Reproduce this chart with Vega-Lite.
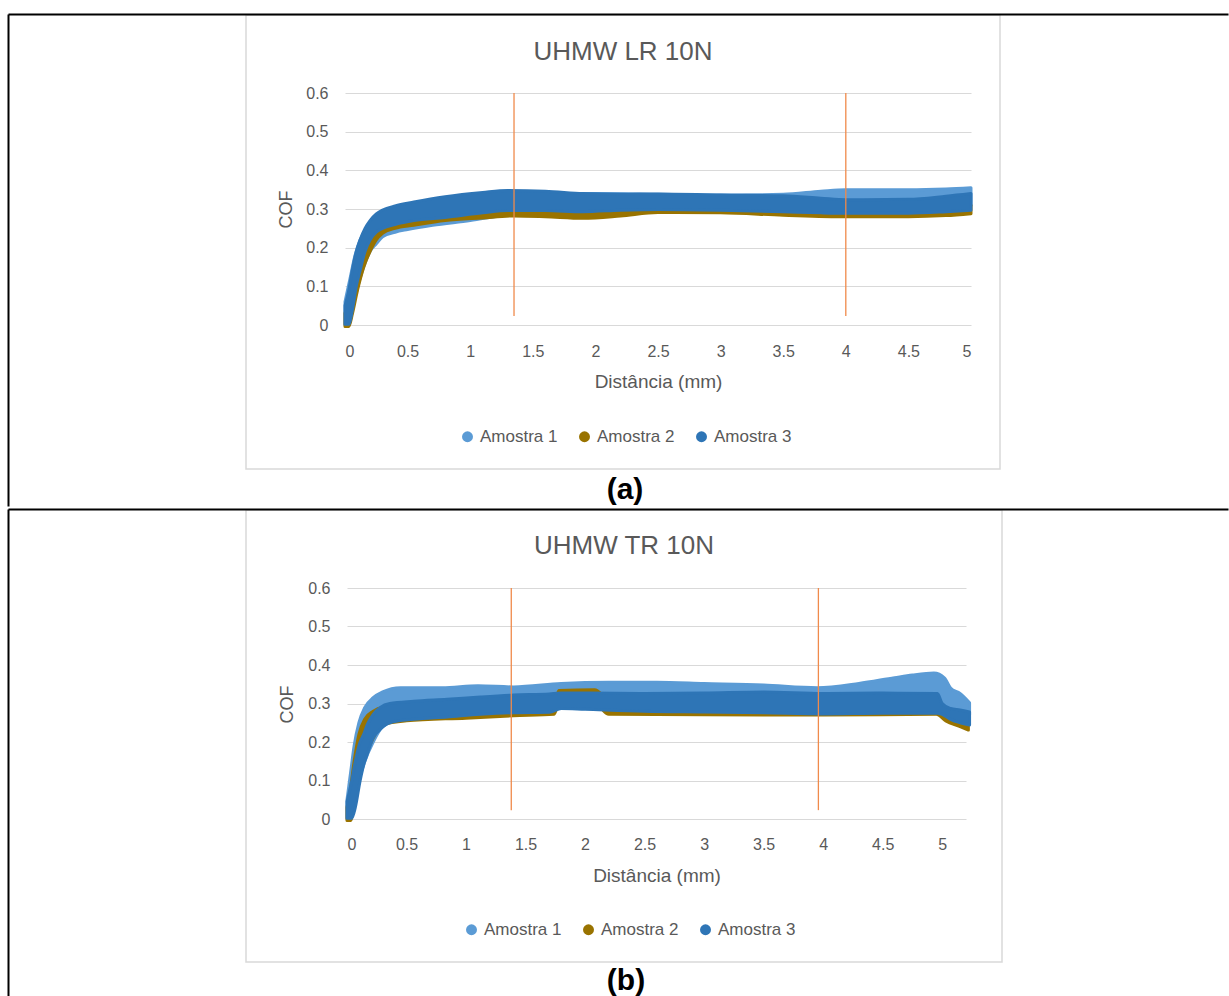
{
  "$schema": "https://vega.github.io/schema/vega-lite/v6.json",
  "padding": {"left": 7, "top": 13, "right": 0, "bottom": 0},
  "background": "white",
  "spacing": 0,
  "datasets": {
    "bandsA": [
      {"s": "Amostra 1", "x": 0, "lo": 0, "hi": 0.06},
      {"s": "Amostra 1", "x": 0.04, "lo": 0.02, "hi": 0.12},
      {"s": "Amostra 1", "x": 0.08, "lo": 0.07, "hi": 0.18},
      {"s": "Amostra 1", "x": 0.12, "lo": 0.12, "hi": 0.22},
      {"s": "Amostra 1", "x": 0.16, "lo": 0.16, "hi": 0.245},
      {"s": "Amostra 1", "x": 0.2, "lo": 0.19, "hi": 0.26},
      {"s": "Amostra 1", "x": 0.25, "lo": 0.21, "hi": 0.275},
      {"s": "Amostra 1", "x": 0.3, "lo": 0.228, "hi": 0.285},
      {"s": "Amostra 1", "x": 0.4, "lo": 0.24, "hi": 0.295},
      {"s": "Amostra 1", "x": 0.5, "lo": 0.247, "hi": 0.3},
      {"s": "Amostra 1", "x": 0.7, "lo": 0.258, "hi": 0.31},
      {"s": "Amostra 1", "x": 1.0, "lo": 0.27, "hi": 0.325},
      {"s": "Amostra 1", "x": 1.3, "lo": 0.285, "hi": 0.335},
      {"s": "Amostra 1", "x": 1.6, "lo": 0.29, "hi": 0.338},
      {"s": "Amostra 1", "x": 2.0, "lo": 0.3, "hi": 0.34},
      {"s": "Amostra 1", "x": 2.5, "lo": 0.3, "hi": 0.338},
      {"s": "Amostra 1", "x": 3.0, "lo": 0.3, "hi": 0.336},
      {"s": "Amostra 1", "x": 3.5, "lo": 0.3, "hi": 0.338},
      {"s": "Amostra 1", "x": 3.8, "lo": 0.305, "hi": 0.346},
      {"s": "Amostra 1", "x": 4.0, "lo": 0.31, "hi": 0.35},
      {"s": "Amostra 1", "x": 4.5, "lo": 0.31, "hi": 0.35},
      {"s": "Amostra 1", "x": 4.8, "lo": 0.31, "hi": 0.352},
      {"s": "Amostra 1", "x": 5.0, "lo": 0.31, "hi": 0.355},
      {"s": "Amostra 2", "x": 0, "lo": -0.004, "hi": 0.03},
      {"s": "Amostra 2", "x": 0.03, "lo": -0.004, "hi": 0.07},
      {"s": "Amostra 2", "x": 0.06, "lo": 0.03, "hi": 0.13},
      {"s": "Amostra 2", "x": 0.1, "lo": 0.09, "hi": 0.19},
      {"s": "Amostra 2", "x": 0.15, "lo": 0.15, "hi": 0.235},
      {"s": "Amostra 2", "x": 0.2, "lo": 0.19, "hi": 0.255},
      {"s": "Amostra 2", "x": 0.25, "lo": 0.22, "hi": 0.272},
      {"s": "Amostra 2", "x": 0.3, "lo": 0.237, "hi": 0.282},
      {"s": "Amostra 2", "x": 0.4, "lo": 0.25, "hi": 0.29},
      {"s": "Amostra 2", "x": 0.55, "lo": 0.258, "hi": 0.295},
      {"s": "Amostra 2", "x": 0.8, "lo": 0.27, "hi": 0.3},
      {"s": "Amostra 2", "x": 1.1, "lo": 0.277, "hi": 0.305},
      {"s": "Amostra 2", "x": 1.35, "lo": 0.282, "hi": 0.31},
      {"s": "Amostra 2", "x": 1.6, "lo": 0.28, "hi": 0.305},
      {"s": "Amostra 2", "x": 1.9, "lo": 0.276, "hi": 0.3},
      {"s": "Amostra 2", "x": 2.2, "lo": 0.282, "hi": 0.305},
      {"s": "Amostra 2", "x": 2.5, "lo": 0.291, "hi": 0.31},
      {"s": "Amostra 2", "x": 3.0, "lo": 0.29, "hi": 0.31},
      {"s": "Amostra 2", "x": 3.5, "lo": 0.284, "hi": 0.305},
      {"s": "Amostra 2", "x": 4.0, "lo": 0.28, "hi": 0.3},
      {"s": "Amostra 2", "x": 4.5, "lo": 0.28, "hi": 0.3},
      {"s": "Amostra 2", "x": 4.8, "lo": 0.283, "hi": 0.303},
      {"s": "Amostra 2", "x": 5.0, "lo": 0.288, "hi": 0.31},
      {"s": "Amostra 3", "x": 0, "lo": 0.002, "hi": 0.05},
      {"s": "Amostra 3", "x": 0.03, "lo": 0.002, "hi": 0.09},
      {"s": "Amostra 3", "x": 0.06, "lo": 0.04, "hi": 0.145},
      {"s": "Amostra 3", "x": 0.09, "lo": 0.1, "hi": 0.19},
      {"s": "Amostra 3", "x": 0.12, "lo": 0.14, "hi": 0.22},
      {"s": "Amostra 3", "x": 0.16, "lo": 0.19, "hi": 0.25},
      {"s": "Amostra 3", "x": 0.2, "lo": 0.22, "hi": 0.27},
      {"s": "Amostra 3", "x": 0.25, "lo": 0.24, "hi": 0.287},
      {"s": "Amostra 3", "x": 0.3, "lo": 0.25, "hi": 0.297},
      {"s": "Amostra 3", "x": 0.4, "lo": 0.26, "hi": 0.308},
      {"s": "Amostra 3", "x": 0.55, "lo": 0.27, "hi": 0.318},
      {"s": "Amostra 3", "x": 0.8, "lo": 0.278, "hi": 0.332},
      {"s": "Amostra 3", "x": 1.1, "lo": 0.29, "hi": 0.343},
      {"s": "Amostra 3", "x": 1.3, "lo": 0.296, "hi": 0.348},
      {"s": "Amostra 3", "x": 1.6, "lo": 0.296, "hi": 0.346},
      {"s": "Amostra 3", "x": 1.9, "lo": 0.293, "hi": 0.34},
      {"s": "Amostra 3", "x": 2.2, "lo": 0.297, "hi": 0.338},
      {"s": "Amostra 3", "x": 2.5, "lo": 0.299, "hi": 0.339},
      {"s": "Amostra 3", "x": 3.0, "lo": 0.297, "hi": 0.336},
      {"s": "Amostra 3", "x": 3.5, "lo": 0.293, "hi": 0.334},
      {"s": "Amostra 3", "x": 3.8, "lo": 0.29, "hi": 0.328},
      {"s": "Amostra 3", "x": 4.0, "lo": 0.289, "hi": 0.324},
      {"s": "Amostra 3", "x": 4.5, "lo": 0.289, "hi": 0.325},
      {"s": "Amostra 3", "x": 4.8, "lo": 0.293, "hi": 0.333},
      {"s": "Amostra 3", "x": 5.0, "lo": 0.297, "hi": 0.34}
    ],
    "bandsB": [
      {"s": "Amostra 1", "x": 0, "lo": 0, "hi": 0.05},
      {"s": "Amostra 1", "x": 0.03, "lo": 0.01, "hi": 0.12},
      {"s": "Amostra 1", "x": 0.06, "lo": 0.05, "hi": 0.19},
      {"s": "Amostra 1", "x": 0.1, "lo": 0.1, "hi": 0.25},
      {"s": "Amostra 1", "x": 0.15, "lo": 0.15, "hi": 0.29},
      {"s": "Amostra 1", "x": 0.22, "lo": 0.2, "hi": 0.315},
      {"s": "Amostra 1", "x": 0.3, "lo": 0.24, "hi": 0.33},
      {"s": "Amostra 1", "x": 0.45, "lo": 0.26, "hi": 0.341},
      {"s": "Amostra 1", "x": 0.8, "lo": 0.27, "hi": 0.341},
      {"s": "Amostra 1", "x": 1.1, "lo": 0.28, "hi": 0.346},
      {"s": "Amostra 1", "x": 1.4, "lo": 0.285, "hi": 0.343},
      {"s": "Amostra 1", "x": 1.8, "lo": 0.29, "hi": 0.352},
      {"s": "Amostra 1", "x": 2.2, "lo": 0.29, "hi": 0.355},
      {"s": "Amostra 1", "x": 2.6, "lo": 0.29, "hi": 0.355},
      {"s": "Amostra 1", "x": 3.0, "lo": 0.29, "hi": 0.352},
      {"s": "Amostra 1", "x": 3.5, "lo": 0.29, "hi": 0.348},
      {"s": "Amostra 1", "x": 3.95, "lo": 0.29, "hi": 0.341},
      {"s": "Amostra 1", "x": 4.3, "lo": 0.29, "hi": 0.352},
      {"s": "Amostra 1", "x": 4.6, "lo": 0.29, "hi": 0.367},
      {"s": "Amostra 1", "x": 4.75, "lo": 0.29, "hi": 0.374},
      {"s": "Amostra 1", "x": 4.93, "lo": 0.29, "hi": 0.379},
      {"s": "Amostra 1", "x": 5.02, "lo": 0.29, "hi": 0.366},
      {"s": "Amostra 1", "x": 5.07, "lo": 0.28, "hi": 0.34},
      {"s": "Amostra 1", "x": 5.15, "lo": 0.27, "hi": 0.326},
      {"s": "Amostra 1", "x": 5.23, "lo": 0.27, "hi": 0.302},
      {"s": "Amostra 2", "x": 0, "lo": -0.004, "hi": 0.03},
      {"s": "Amostra 2", "x": 0.03, "lo": -0.004, "hi": 0.08},
      {"s": "Amostra 2", "x": 0.06, "lo": 0.04, "hi": 0.15},
      {"s": "Amostra 2", "x": 0.1, "lo": 0.1, "hi": 0.22},
      {"s": "Amostra 2", "x": 0.15, "lo": 0.16, "hi": 0.26},
      {"s": "Amostra 2", "x": 0.22, "lo": 0.21, "hi": 0.28},
      {"s": "Amostra 2", "x": 0.3, "lo": 0.245, "hi": 0.29},
      {"s": "Amostra 2", "x": 0.5, "lo": 0.255, "hi": 0.295},
      {"s": "Amostra 2", "x": 1.0, "lo": 0.262, "hi": 0.3},
      {"s": "Amostra 2", "x": 1.4, "lo": 0.268, "hi": 0.3},
      {"s": "Amostra 2", "x": 1.74, "lo": 0.272, "hi": 0.3},
      {"s": "Amostra 2", "x": 1.78, "lo": 0.3, "hi": 0.334},
      {"s": "Amostra 2", "x": 2.08, "lo": 0.3, "hi": 0.336},
      {"s": "Amostra 2", "x": 2.2, "lo": 0.272, "hi": 0.31},
      {"s": "Amostra 2", "x": 3.0, "lo": 0.271, "hi": 0.3},
      {"s": "Amostra 2", "x": 4.0, "lo": 0.27, "hi": 0.3},
      {"s": "Amostra 2", "x": 4.95, "lo": 0.272, "hi": 0.3},
      {"s": "Amostra 2", "x": 5.03, "lo": 0.255, "hi": 0.28},
      {"s": "Amostra 2", "x": 5.15, "lo": 0.24, "hi": 0.27},
      {"s": "Amostra 2", "x": 5.22, "lo": 0.231, "hi": 0.265},
      {"s": "Amostra 3", "x": 0, "lo": 0.002, "hi": 0.045},
      {"s": "Amostra 3", "x": 0.04, "lo": 0.002, "hi": 0.1},
      {"s": "Amostra 3", "x": 0.07, "lo": 0.03, "hi": 0.15},
      {"s": "Amostra 3", "x": 0.11, "lo": 0.099, "hi": 0.2},
      {"s": "Amostra 3", "x": 0.14, "lo": 0.14, "hi": 0.22},
      {"s": "Amostra 3", "x": 0.17, "lo": 0.168, "hi": 0.245},
      {"s": "Amostra 3", "x": 0.22, "lo": 0.211, "hi": 0.272},
      {"s": "Amostra 3", "x": 0.28, "lo": 0.233, "hi": 0.29},
      {"s": "Amostra 3", "x": 0.36, "lo": 0.25, "hi": 0.3},
      {"s": "Amostra 3", "x": 0.56, "lo": 0.259, "hi": 0.306},
      {"s": "Amostra 3", "x": 0.84, "lo": 0.265, "hi": 0.311},
      {"s": "Amostra 3", "x": 1.12, "lo": 0.272, "hi": 0.317},
      {"s": "Amostra 3", "x": 1.4, "lo": 0.276, "hi": 0.322},
      {"s": "Amostra 3", "x": 1.7, "lo": 0.277, "hi": 0.325},
      {"s": "Amostra 3", "x": 1.8, "lo": 0.287, "hi": 0.327},
      {"s": "Amostra 3", "x": 2.0, "lo": 0.285, "hi": 0.327},
      {"s": "Amostra 3", "x": 2.5, "lo": 0.28, "hi": 0.326},
      {"s": "Amostra 3", "x": 3.0, "lo": 0.278, "hi": 0.327},
      {"s": "Amostra 3", "x": 3.5, "lo": 0.276, "hi": 0.33},
      {"s": "Amostra 3", "x": 4.0, "lo": 0.273, "hi": 0.326},
      {"s": "Amostra 3", "x": 4.5, "lo": 0.275, "hi": 0.327},
      {"s": "Amostra 3", "x": 4.96, "lo": 0.275, "hi": 0.326},
      {"s": "Amostra 3", "x": 5.0, "lo": 0.272, "hi": 0.3},
      {"s": "Amostra 3", "x": 5.07, "lo": 0.259, "hi": 0.287},
      {"s": "Amostra 3", "x": 5.15, "lo": 0.25, "hi": 0.283},
      {"s": "Amostra 3", "x": 5.23, "lo": 0.244, "hi": 0.278}
    ],
    "rulesA": [
      {"x": 1.35, "lo": 0.023, "hi": 0.6},
      {"x": 4.0, "lo": 0.023, "hi": 0.6}
    ],
    "rulesB": [
      {"x": 1.38, "lo": 0.023, "hi": 0.6},
      {"x": 3.96, "lo": 0.023, "hi": 0.6}
    ]
  },
  "resolve": {"scale": {"color": "independent"}, "legend": {"color": "independent"}},
  "vconcat": [
    {
      "title": {"text": "(a)", "orient": "bottom", "anchor": "middle", "dx": -112, "offset": -33, "font": "Liberation Sans", "fontSize": 30, "fontWeight": "bold", "color": "#000000"},
      "spacing": 0,
      "resolve": {"scale": {"color": "independent"}, "legend": {"color": "independent"}},
      "vconcat": [
        {
          "width": 754,
          "height": 454,
          "title": {"text": "UHMW LR 10N", "offset": -51, "frame": "group", "anchor": "middle", "font": "Liberation Sans", "fontSize": 26, "fontWeight": "normal", "color": "#595959"},
          "resolve": {"scale": {"x": "independent", "y": "independent"}, "axis": {"x": "independent", "y": "independent"}},
          "layer": [
            {
              "encoding": {
                "x": {"field": "x", "type": "quantitative", "scale": {"domain": [0, 5], "range": [99, 725], "nice": false, "zero": false},
                  "axis": {"orient": "bottom", "offset": -144, "values": [0, 0.5, 1, 1.5, 2, 2.5, 3, 3.5, 4, 4.5, 5], "format": "~g", "domain": false, "ticks": false, "grid": false, "labelPadding": 18, "title": "Distância (mm)", "titleFontSize": 19, "titleY": 56, "titleBaseline": "middle"}},
                "y": {"field": "lo", "type": "quantitative", "scale": {"domain": [0, 0.6], "range": [310, 78], "nice": false, "zero": false},
                  "axis": {"orient": "left", "offset": -99, "values": [0, 0.1, 0.2, 0.3, 0.4, 0.5, 0.6], "format": "~g", "domain": false, "ticks": false, "grid": true, "labelPadding": 17, "title": "COF", "titleFontSize": 18, "titleX": -59, "titleY": 194, "titleBaseline": "middle"}},
                "y2": {"field": "hi"}
              },
              "layer": [
                {"data": {"name": "bandsA"}, "transform": [{"filter": "datum.s === 'Amostra 1'"}], "mark": {"type": "area", "interpolate": "monotone", "stroke": "#5B9BD5", "strokeWidth": 3, "strokeJoin": "round"},
                  "encoding": {"color": {"field": "s", "type": "nominal", "scale": {"domain": ["Amostra 1", "Amostra 2", "Amostra 3"], "range": ["#5B9BD5", "#997300", "#2E75B6"]}, "legend": {"orient": "none", "legendX": 213, "legendY": 413, "direction": "horizontal", "title": null}}}},
                {"data": {"name": "bandsA"}, "transform": [{"filter": "datum.s === 'Amostra 2'"}], "mark": {"type": "area", "interpolate": "monotone", "stroke": "#997300", "strokeWidth": 3, "strokeJoin": "round"},
                  "encoding": {"color": {"field": "s", "type": "nominal", "scale": {"domain": ["Amostra 1", "Amostra 2", "Amostra 3"], "range": ["#5B9BD5", "#997300", "#2E75B6"]}, "legend": {"orient": "none", "legendX": 213, "legendY": 413, "direction": "horizontal", "title": null}}}},
                {"data": {"name": "bandsA"}, "transform": [{"filter": "datum.s === 'Amostra 3'"}], "mark": {"type": "area", "interpolate": "monotone", "stroke": "#2E75B6", "strokeWidth": 3, "strokeJoin": "round"},
                  "encoding": {"color": {"field": "s", "type": "nominal", "scale": {"domain": ["Amostra 1", "Amostra 2", "Amostra 3"], "range": ["#5B9BD5", "#997300", "#2E75B6"]}, "legend": {"orient": "none", "legendX": 213, "legendY": 413, "direction": "horizontal", "title": null}}}},
                {"data": {"name": "rulesA"}, "mark": {"type": "rule", "color": "#F08A4B", "strokeWidth": 1.3}}
              ]
            },
            {
              "data": {"name": "rulesA"},
              "mark": {"type": "point", "opacity": 0, "size": 1},
              "encoding": {
                "x": {"field": "lo", "type": "quantitative", "scale": {"domain": [0, 1], "range": [-238, 982], "nice": false, "zero": false},
                  "axis": {"orient": "top", "offset": 1, "labels": false, "ticks": false, "grid": false, "domain": true, "domainColor": "#000000", "domainWidth": 2, "title": null}},
                "y": {"field": "lo", "type": "quantitative", "scale": {"domain": [0, 1], "range": [491, -1], "nice": false, "zero": false},
                  "axis": {"orient": "left", "offset": 238, "labels": false, "ticks": false, "grid": false, "domain": true, "domainColor": "#000000", "domainWidth": 2, "title": null}}
              }
            }
          ]
        }
      ]
    },
    {
      "title": {"text": "(b)", "orient": "bottom", "anchor": "middle", "dx": -111, "offset": -32, "font": "Liberation Sans", "fontSize": 30, "fontWeight": "bold", "color": "#000000"},
      "spacing": 0,
      "resolve": {"scale": {"color": "independent"}, "legend": {"color": "independent"}},
      "vconcat": [
        {
          "width": 756,
          "height": 452,
          "title": {"text": "UHMW TR 10N", "offset": -50, "frame": "group", "anchor": "middle", "font": "Liberation Sans", "fontSize": 26, "fontWeight": "normal", "color": "#595959"},
          "resolve": {"scale": {"x": "independent", "y": "independent"}, "axis": {"x": "independent", "y": "independent"}},
          "layer": [
            {
              "encoding": {
                "x": {"field": "x", "type": "quantitative", "scale": {"domain": [0, 5.2], "range": [101, 720], "nice": false, "zero": false},
                  "axis": {"orient": "bottom", "offset": -143, "values": [0, 0.5, 1, 1.5, 2, 2.5, 3, 3.5, 4, 4.5, 5], "format": "~g", "domain": false, "ticks": false, "grid": false, "labelPadding": 17, "title": "Distância (mm)", "titleFontSize": 19, "titleY": 56, "titleBaseline": "middle"}},
                "y": {"field": "lo", "type": "quantitative", "scale": {"domain": [0, 0.6], "range": [309, 78], "nice": false, "zero": false},
                  "axis": {"orient": "left", "offset": -101, "values": [0, 0.1, 0.2, 0.3, 0.4, 0.5, 0.6], "format": "~g", "domain": false, "ticks": false, "grid": true, "labelPadding": 17, "title": "COF", "titleFontSize": 18, "titleX": -60, "titleY": 194, "titleBaseline": "middle"}},
                "y2": {"field": "hi"}
              },
              "layer": [
                {"data": {"name": "bandsB"}, "transform": [{"filter": "datum.s === 'Amostra 1'"}], "mark": {"type": "area", "interpolate": "monotone", "stroke": "#5B9BD5", "strokeWidth": 3, "strokeJoin": "round"},
                  "encoding": {"color": {"field": "s", "type": "nominal", "scale": {"domain": ["Amostra 1", "Amostra 2", "Amostra 3"], "range": ["#5B9BD5", "#997300", "#2E75B6"]}, "legend": {"orient": "none", "legendX": 217, "legendY": 411, "direction": "horizontal", "title": null}}}},
                {"data": {"name": "bandsB"}, "transform": [{"filter": "datum.s === 'Amostra 2'"}], "mark": {"type": "area", "interpolate": "monotone", "stroke": "#997300", "strokeWidth": 3, "strokeJoin": "round"},
                  "encoding": {"color": {"field": "s", "type": "nominal", "scale": {"domain": ["Amostra 1", "Amostra 2", "Amostra 3"], "range": ["#5B9BD5", "#997300", "#2E75B6"]}, "legend": {"orient": "none", "legendX": 217, "legendY": 411, "direction": "horizontal", "title": null}}}},
                {"data": {"name": "bandsB"}, "transform": [{"filter": "datum.s === 'Amostra 3'"}], "mark": {"type": "area", "interpolate": "monotone", "stroke": "#2E75B6", "strokeWidth": 3, "strokeJoin": "round"},
                  "encoding": {"color": {"field": "s", "type": "nominal", "scale": {"domain": ["Amostra 1", "Amostra 2", "Amostra 3"], "range": ["#5B9BD5", "#997300", "#2E75B6"]}, "legend": {"orient": "none", "legendX": 217, "legendY": 411, "direction": "horizontal", "title": null}}}},
                {"data": {"name": "rulesB"}, "mark": {"type": "rule", "color": "#F08A4B", "strokeWidth": 1.3}}
              ]
            },
            {
              "data": {"name": "rulesB"},
              "mark": {"type": "point", "opacity": 0, "size": 1},
              "encoding": {
                "x": {"field": "lo", "type": "quantitative", "scale": {"domain": [0, 1], "range": [-238, 982], "nice": false, "zero": false},
                  "axis": {"orient": "top", "offset": 1, "labels": false, "ticks": false, "grid": false, "domain": true, "domainColor": "#000000", "domainWidth": 2, "title": null}},
                "y": {"field": "lo", "type": "quantitative", "scale": {"domain": [0, 1], "range": [486, -1], "nice": false, "zero": false},
                  "axis": {"orient": "left", "offset": 238, "labels": false, "ticks": false, "grid": false, "domain": true, "domainColor": "#000000", "domainWidth": 2, "title": null}}
              }
            }
          ]
        }
      ]
    }
  ],
  "config": {
    "view": {"stroke": "#D9D9D9", "strokeWidth": 1.5},
    "axis": {"labelFont": "Liberation Sans", "labelFontSize": 16, "labelColor": "#595959", "titleFont": "Liberation Sans", "titleFontWeight": "normal", "titleColor": "#595959", "gridColor": "#D9D9D9", "gridWidth": 1.2},
    "legend": {"symbolType": "circle", "symbolSize": 120, "symbolStrokeWidth": 0, "labelFont": "Liberation Sans", "labelFontSize": 17, "labelColor": "#595959", "labelOffset": 4, "columnPadding": 18, "padding": 0}
  }
}
